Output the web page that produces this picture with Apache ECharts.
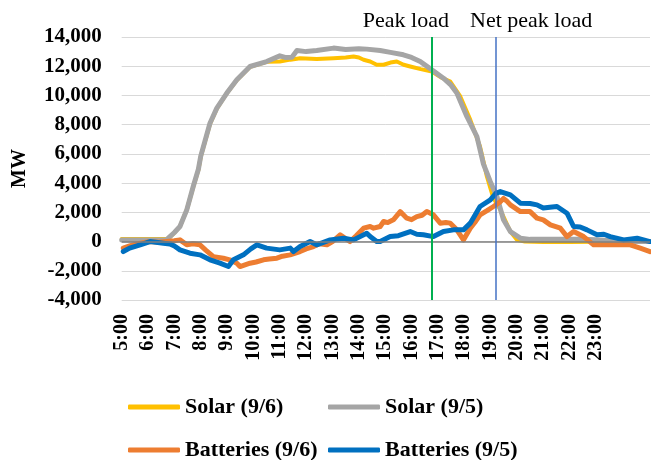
<!DOCTYPE html>
<html>
<head>
<meta charset="utf-8">
<script src="https://cdn.jsdelivr.net/npm/echarts@6/dist/echarts.min.js"></script>
<style>
html,body{margin:0;padding:0;background:#fff;}
#chart{width:651px;height:460px;}
</style>
</head>
<body>
<div id="chart"></div>
<script>
// Times are decimal hours; values in MW
const solar96Times  = [5.0,6.0,6.7,6.83,7.0,7.21,7.47,7.72,7.91,8.0,8.35,8.61,8.99,9.37,9.87,10.5,11.0,11.4,11.77,12.4,13.04,13.5,13.8,14.0,14.18,14.43,14.68,14.94,15.2,15.44,15.7,15.95,16.35,16.77,17.1,17.47,17.85,18.23,18.6,18.86,19.1,19.37,19.75,20.0,20.3,21.0,22.0,23.0,23.8,25.05];
const solar96Values = [180,180,180,300,600,1030,2170,3770,4900,5800,8050,9100,10150,11050,11950,12300,12320,12450,12550,12500,12550,12600,12660,12600,12440,12320,12100,12100,12250,12320,12100,11980,11800,11640,11250,10950,9930,8330,6500,4450,3000,2170,685,116,0,-30,-30,-20,0,0];

const solar95Times  = [5.0,6.0,6.7,6.83,7.0,7.21,7.47,7.72,7.91,8.0,8.35,8.61,8.99,9.37,9.87,10.5,11.0,11.2,11.46,11.65,12.0,12.4,13.04,13.5,14.0,14.3,14.81,15.2,15.69,16.0,16.33,16.77,17.21,17.5,17.72,18.1,18.48,18.73,18.99,19.24,19.49,19.75,20.13,20.5,21.0,22.0,22.5,23.0,23.5,23.8,25.05];
const solar95Values = [100,100,100,340,620,1030,2170,3800,4950,5850,8100,9130,10160,11070,11980,12320,12710,12600,12620,13070,13000,13070,13240,13150,13200,13170,13070,12950,12780,12600,12320,11750,11180,10700,10160,8560,7190,5300,4100,3080,1485,685,230,150,150,150,150,120,80,0,0];

const batt96Times  = [5.06,5.3,5.57,6.07,6.4,6.71,7.0,7.21,7.47,7.7,7.97,8.2,8.48,8.86,9.1,9.37,9.49,9.87,10.1,10.38,10.6,10.89,11.1,11.39,11.77,12.0,12.28,12.5,12.79,13.0,13.29,13.5,13.67,13.9,14.18,14.43,14.56,14.81,14.94,15.1,15.31,15.57,15.82,16.0,16.2,16.4,16.58,16.83,17.09,17.3,17.47,17.72,17.97,18.23,18.4,18.6,18.85,19.11,19.35,19.49,19.6,19.75,20.13,20.5,20.76,21.0,21.27,21.65,21.9,22.15,22.53,22.91,23.29,23.8,24.3,24.68,25.05];
const batt96Values = [-450,-300,-160,0,-50,0,50,115,-225,-150,-225,-600,-1030,-1140,-1250,-1480,-1710,-1480,-1400,-1250,-1200,-1140,-1000,-910,-685,-500,-340,-150,-225,0,460,200,0,400,915,1030,915,1030,1370,1300,1485,2050,1600,1500,1710,1800,2050,1830,1260,1300,1260,800,115,915,1300,1830,2100,2400,2700,2950,2800,2510,2050,2050,1600,1485,1140,915,340,685,340,-225,-225,-225,-225,-450,-685];

const batt95Times  = [5.06,5.3,5.7,6.07,6.3,6.58,6.83,7.0,7.21,7.59,7.97,8.35,8.73,9.05,9.24,9.62,9.9,10.13,10.5,11.0,11.4,11.52,11.77,12.15,12.4,12.91,13.42,13.8,14.3,14.43,14.68,14.81,15.19,15.5,15.95,16.2,16.45,16.83,17.21,17.59,17.97,18.23,18.6,18.99,19.2,19.37,19.75,20.13,20.5,20.76,21.0,21.25,21.52,21.9,22.15,22.4,22.66,23.04,23.3,23.54,24.05,24.56,25.05];
const batt95Values = [-685,-450,-225,0,-50,-110,-160,-300,-570,-800,-910,-1250,-1480,-1710,-1250,-910,-500,-225,-450,-570,-450,-685,-340,0,-225,115,230,115,570,340,0,0,340,400,685,500,460,340,685,800,800,1260,2400,2850,3300,3420,3200,2630,2600,2510,2290,2350,2400,1940,1030,1000,800,460,500,340,115,230,0];

const seriesNames = ['Solar (9/6)', 'Solar (9/5)', 'Batteries (9/6)', 'Batteries (9/5)'];
const hourTicks = [5,6,7,8,9,10,11,12,13,14,15,16,17,18,19,20,21,22,23];
const peakLoadTime = 16.77;
const netPeakLoadTime = 19.21;

function pairs(t, v) { return t.map((x, i) => [x, v[i]]); }

const FONT = 'Liberation Serif';
const chart = echarts.init(document.getElementById('chart'));
const lineSeries = (name, t, v, color, width, extra) => Object.assign({
  name: name, type: 'line', data: pairs(t, v), showSymbol: false, symbol: 'none',
  lineStyle: { color: color, width: width, cap: 'round', join: 'round' },
  itemStyle: { color: color }, animation: false
}, extra || {});

const legendText = { fontFamily: FONT, fontWeight: 'bold', fontSize: 22, lineHeight: 24, color: '#000' };
const legendAt = (name, left, top) => ({
  data: [name], left: left, top: top, itemWidth: 52, itemHeight: 5, icon: 'roundRect',
  padding: 0, textStyle: legendText
});

chart.setOption({
  animation: false,
  grid: { left: 121.7, right: 1, top: 37, bottom: 160 },
  xAxis: {
    type: 'value', min: 5, max: 25.05, interval: 1,
    axisLine: { show: false }, axisTick: { show: false }, splitLine: { show: false },
    axisLabel: {
      rotate: 90, margin: 14, fontFamily: FONT, fontWeight: 'bold', fontSize: 20, color: '#000',
      showMaxLabel: false,
      formatter: v => (hourTicks.indexOf(v) >= 0 ? v + ':00' : '')
    }
  },
  yAxis: {
    type: 'value', min: -4000, max: 14000, interval: 2000,
    name: 'MW', nameLocation: 'middle', nameGap: 92, nameRotate: 90,
    nameTextStyle: { fontFamily: FONT, fontWeight: 'bold', fontSize: 20, color: '#000' },
    axisLine: { show: false }, axisTick: { show: false },
    splitLine: { lineStyle: { color: '#d9d9d9', width: 1 } },
    axisLabel: {
      margin: 20, fontFamily: FONT, fontWeight: 'bold', fontSize: 21, color: '#000',
      formatter: v => v.toLocaleString('en-US')
    }
  },
  legend: [
    legendAt(seriesNames[0], 128, 395),
    legendAt(seriesNames[1], 328, 395),
    legendAt(seriesNames[2], 128, 438),
    legendAt(seriesNames[3], 328, 438)
  ],
  series: [
    lineSeries(seriesNames[0], solar96Times, solar96Values, '#FFC000', 4, {
      markLine: { silent: true, symbol: 'none', label: { show: false },
        lineStyle: { color: '#7f7f7f', width: 1.5, type: 'solid' }, data: [{ yAxis: 0 }] }
    }),
    lineSeries(seriesNames[1], solar95Times, solar95Values, '#A5A5A5', 5),
    lineSeries(seriesNames[2], batt96Times, batt96Values, '#ED7D31', 5),
    lineSeries(seriesNames[3], batt95Times, batt95Values, '#0070C0', 5, {
      markLine: { silent: true, symbol: 'none',
        data: [
          { xAxis: peakLoadTime, lineStyle: { color: '#00B050', width: 2, type: 'solid' },
            label: { show: true, position: 'end', formatter: 'Peak load', offset: [-26, 0], fontFamily: FONT, fontSize: 22, color: '#000' } },
          { xAxis: netPeakLoadTime, lineStyle: { color: '#4472C4', width: 1.5, type: 'solid' },
            label: { show: true, position: 'end', formatter: 'Net peak load', offset: [35, 0], fontFamily: FONT, fontSize: 22, color: '#000' } }
        ] }
    })
  ]
});
</script>
</body>
</html>
